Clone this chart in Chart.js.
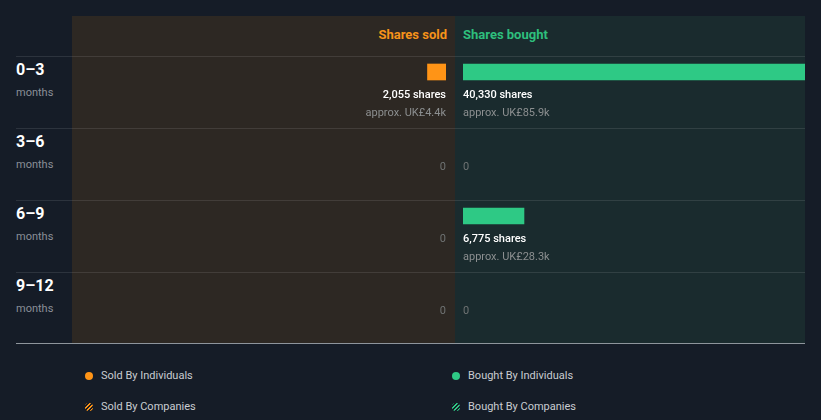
<!DOCTYPE html>
<html>
<head>
<meta charset="utf-8">
<script src="https://cdn.jsdelivr.net/npm/chart.js@4.4.1/dist/chart.umd.min.js"></script>
<style>
  html, body { margin: 0; padding: 0; }
  body { width: 821px; height: 420px; background: #151c27; position: relative; overflow: hidden; font-family: Roboto, "Noto Sans", sans-serif; }
  .abs { position: absolute; }
  #panelSold { left: 72px; top: 16px; width: 383px; height: 327px; background: #2d2823; }
  #panelBought { left: 455px; top: 16px; width: 350px; height: 327px; background: #1a2b2e; }
  .hline { position: absolute; left: 16px; width: 789px; height: 1px; background: rgba(255,255,255,0.1); }
  #bottomLine { position: absolute; left: 16px; width: 789px; top: 343px; height: 1px; background: #8e959c; }
  .hdr { position: absolute; top: 27px; font-size: 13px; font-weight: 700; line-height: 16px; }
  #hdrSold { right: 374px; color: #f7931a; text-align: right; }
  #hdrBought { left: 463px; color: #2ebf7d; }
  .rowlab { position: absolute; left: 16px; }
  .rowlab .p { color: #ffffff; font-weight: 700; font-size: 16px; line-height: 18px; }
  .rowlab .m { color: #8a8f98; font-size: 11px; line-height: 14px; margin-top: 7px; }
  canvas { position: absolute; }
  .leg { position: absolute; font-size: 11px; color: #c9ccd1; line-height: 14px; }
  .leg .dot { position: absolute; left: -16px; top: 3px; width: 8px; height: 8px; border-radius: 50%; }
</style>
</head>
<body>
<div id="panelSold" class="abs"></div>
<div id="panelBought" class="abs"></div>
<div class="hline" style="top:56px"></div>
<div class="hline" style="top:128px"></div>
<div class="hline" style="top:200px"></div>
<div class="hline" style="top:272px"></div>
<div id="bottomLine"></div>
<div id="hdrSold" class="hdr">Shares sold</div>
<div id="hdrBought" class="hdr">Shares bought</div>
<div id="rowLabels"></div>
<canvas id="soldChart" style="left:72px; top:36px;" width="383" height="308"></canvas>
<canvas id="boughtChart" style="left:455px; top:36px;" width="350" height="308"></canvas>
<div id="legend"></div>
<script>
// ---- data ----
const periods = ['0–3', '3–6', '6–9', '9–12'];
const periodUnit = 'months';
const sharesSold = [2055, 0, 0, 0];
const sharesBought = [40330, 0, 6775, 0];
const soldValue = ['UK£4.4k', null, null, null];
const boughtValue = ['UK£85.9k', null, 'UK£28.3k', null];
const legendItems = ['Sold By Individuals', 'Bought By Individuals', 'Sold By Companies', 'Bought By Companies'];
const axisMax = 38000;

// ---- row labels ----
const rl = document.getElementById('rowLabels');
periods.forEach((p, i) => {
  const d = document.createElement('div');
  d.className = 'rowlab';
  d.style.top = (61 + i * 72) + 'px';
  d.innerHTML = '<div class="p">' + p + '</div><div class="m">' + periodUnit + '</div>';
  rl.appendChild(d);
});

// ---- legend ----
const ORANGE = '#ff9416';
const GREEN = '#2ec985';
const lg = document.getElementById('legend');
const legPos = [[101, 369], [468, 369], [101, 400], [468, 400]];
legendItems.forEach((t, i) => {
  const d = document.createElement('div');
  d.className = 'leg';
  d.style.left = legPos[i][0] + 'px';
  d.style.top = legPos[i][1] + 'px';
  const col = (i % 2 === 0) ? ORANGE : GREEN;
  let bg;
  if (i < 2) bg = col;
  else bg = 'repeating-linear-gradient(135deg, ' + col + ' 0px, ' + col + ' 1.5px, #151c27 1.5px, #151c27 3px)';
  d.innerHTML = '<span class="dot" style="background:' + bg + '"></span>' + t;
  lg.appendChild(d);
});

// ---- label plugin ----
const labelPlugin = {
  id: 'valueLabels',
  afterDatasetsDraw(chart, args, opts) {
    const ctx = chart.ctx;
    const meta = chart.getDatasetMeta(0);
    const vals = chart.data.datasets[0].data;
    const money = opts.money;
    const right = opts.side === 'sold';
    const zeroX = right ? chart.chartArea.right : chart.chartArea.left;
    ctx.save();
    ctx.textAlign = right ? 'right' : 'left';
    ctx.textBaseline = 'middle';
    meta.data.forEach((bar, i) => {
      const y = bar.y;
      if (vals[i] === 0) {
        ctx.font = '11px Roboto, sans-serif';
        ctx.fillStyle = '#6f7373';
        ctx.fillText('0', zeroX, y + 23);
      } else {
        ctx.font = '500 11px Roboto, sans-serif';
        ctx.fillStyle = '#ffffff';
        ctx.fillText(vals[i].toLocaleString('en-US') + ' shares', zeroX, y + 23);
        ctx.font = '11px Roboto, sans-serif';
        ctx.fillStyle = '#8c8f90';
        ctx.fillText('approx. ' + money[i], zeroX, y + 41);
      }
    });
    ctx.restore();
  }
};

function makeChart(id, values, color, side, money, padding) {
  return new Chart(document.getElementById(id), {
    type: 'bar',
    data: {
      labels: periods,
      datasets: [{
        data: values,
        backgroundColor: (c) => (c.raw === 0 ? 'rgba(0,0,0,0)' : color),
        borderWidth: 0,
        barThickness: 16,
        clip: 0
      }]
    },
    options: {
      indexAxis: 'y',
      responsive: false,
      animation: false,
      layout: { padding: padding },
      plugins: {
        legend: { display: false },
        tooltip: { enabled: false },
        valueLabels: { side: side, money: money }
      },
      scales: {
        x: { display: false, min: 0, max: axisMax, reverse: side === 'sold' },
        y: { display: false, offset: true, grid: { display: false } }
      }
    },
    plugins: [labelPlugin]
  });
}

makeChart('soldChart', sharesSold, ORANGE, 'sold', soldValue, { left: 32, right: 9, top: 0, bottom: 20 });
makeChart('boughtChart', sharesBought, GREEN, 'bought', boughtValue, { left: 8, right: 0, top: 0, bottom: 20 });
</script>
</body>
</html>
